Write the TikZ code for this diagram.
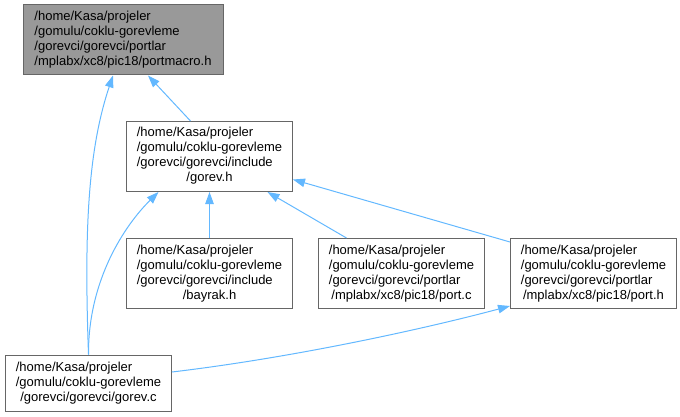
\documentclass[tikz,border=0pt]{standalone}
\usepackage{fontspec}
\setmainfont{Liberation Sans}
\usepackage{xcolor}
\usepackage{tikz}
\usetikzlibrary{arrows.meta,positioning}

\definecolor{edgeblue}{HTML}{63B8FF}
\definecolor{boxline}{HTML}{666666}
\definecolor{rootfill}{HTML}{999999}

% path text: left aligned lines, last line centred
\newcommand{\pathlines}[2]{\begin{tabular}{@{}l@{}}#1\\\multicolumn{1}{@{}c@{}}{#2}\end{tabular}}

\begin{document}
\begin{tikzpicture}[x=1pt, y=-1pt, node distance=46pt and 25pt,
  every node/.style={font=\fontsize{13}{15}\selectfont},
  file/.style={draw=boxline, line width=1pt, rectangle, fill=white,
    inner xsep=10pt, inner ysep=0pt, minimum width=166pt, minimum height=70pt},
  dep/.style={draw=edgeblue, line width=1pt, -{Triangle[length=12pt,width=8.5pt]}}]
\useasboundingbox (0,0) rectangle (680,417);

\node[file, fill=rootfill, minimum width=200pt] (macro) at (123,40)
  {\pathlines{/home/Kasa/projeler\\/gomulu/coklu-gorevleme\\/gorevci/gorevci/portlar}{/mplabx/xc8/pic18/portmacro.h}};
\node[file] (bayrak) at (209.5,273.5)
  {\pathlines{/home/Kasa/projeler\\/gomulu/coklu-gorevleme\\/gorevci/gorevci/include}{/bayrak.h}};
\node[file, above=of bayrak] (gorevh)
  {\pathlines{/home/Kasa/projeler\\/gomulu/coklu-gorevleme\\/gorevci/gorevci/include}{/gorev.h}};
\node[file, right=of bayrak] (portc)
  {\pathlines{/home/Kasa/projeler\\/gomulu/coklu-gorevleme\\/gorevci/gorevci/portlar}{/mplabx/xc8/pic18/port.c}};
\node[file, right=of portc] (porth)
  {\pathlines{/home/Kasa/projeler\\/gomulu/coklu-gorevleme\\/gorevci/gorevci/portlar}{/mplabx/xc8/pic18/port.h}};
\node[file, minimum height=56pt] (gorevc) at (88.5,383)
  {\pathlines{/home/Kasa/projeler\\/gomulu/coklu-gorevleme}{/gorevci/gorevci/gorev.c}};

\draw[dep] ([xshift=-19pt]gorevh.north) -- ([xshift=25pt]macro.south);
\draw[dep] (gorevc.north) .. controls (84,230) and (88,150) .. ([xshift=-10pt]macro.south);
\draw[dep] (bayrak) -- (gorevh);
\draw[dep] ([xshift=-55pt]portc.north) -- ([xshift=58pt]gorevh.south);
\draw[dep] ([yshift=-4pt]porth.north west) -- ([yshift=-23pt]gorevh.east);
\draw[dep] (gorevc.north) .. controls (88,280) and (125,225) .. ([xshift=-51pt]gorevh.south);
\draw[dep] ([yshift=11pt]gorevc.east) .. controls (290,358) and (420,330) .. ([yshift=3pt]porth.south west);
\end{tikzpicture}
\end{document}
